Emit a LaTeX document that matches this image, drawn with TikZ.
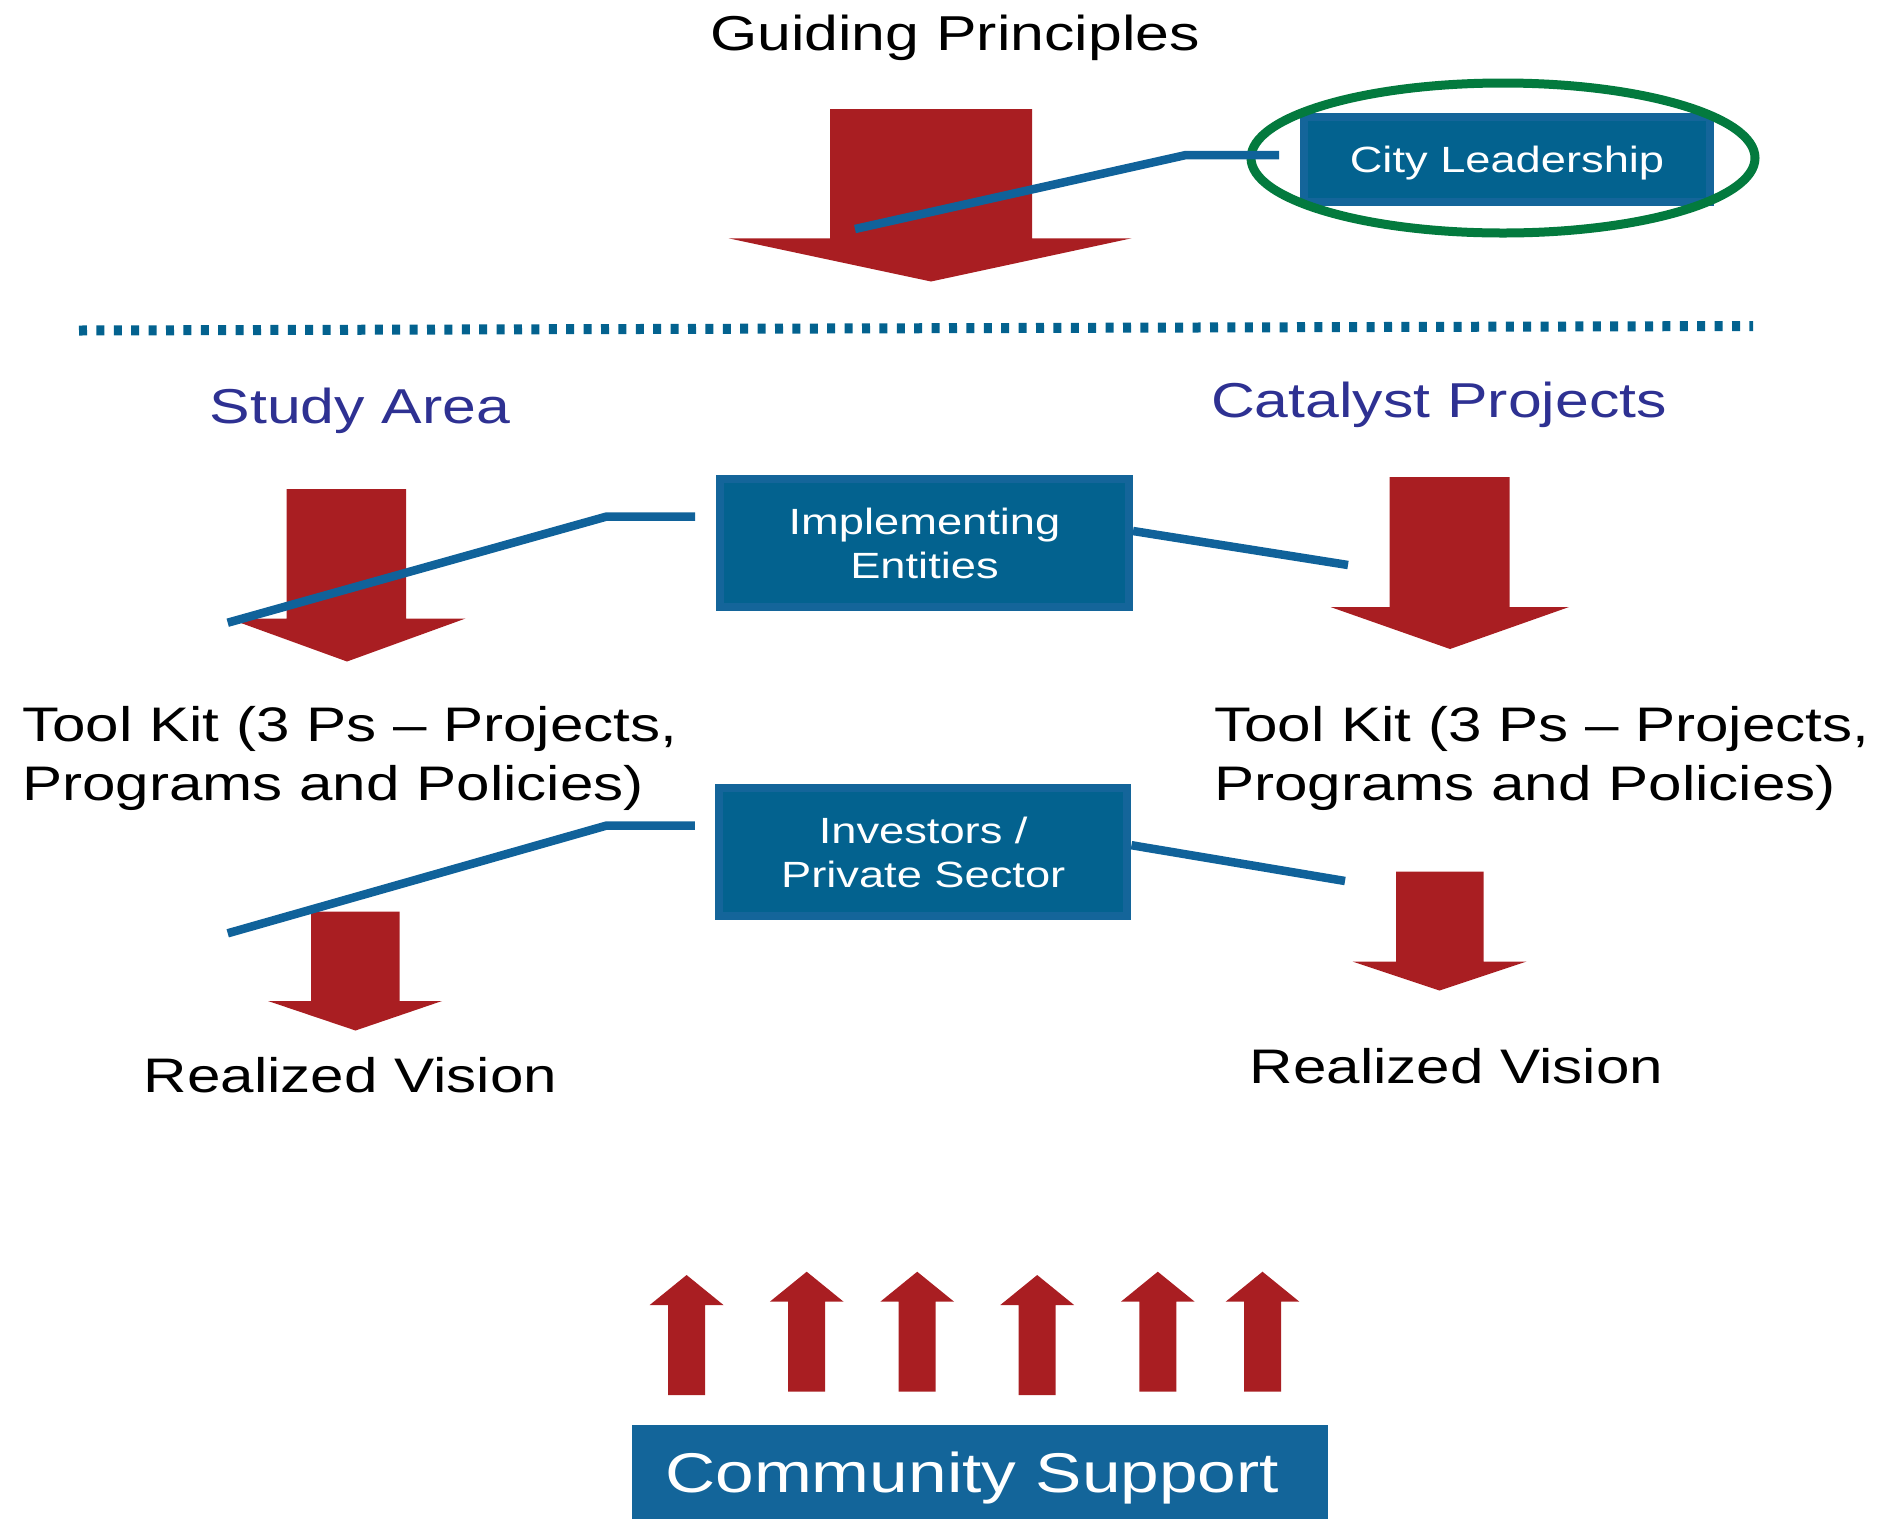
\documentclass[tikz,border=0pt]{standalone}
\usepackage{fontspec}
\setmainfont{Liberation Sans}[FakeStretch=1.24]
\definecolor{arrowred}{HTML}{A91E22}
\definecolor{boxblue}{HTML}{03628F}
\definecolor{boxrim}{HTML}{14659A}
\definecolor{linkblue}{HTML}{10629A}
\definecolor{dotblue}{HTML}{03628F}
\definecolor{ringgreen}{HTML}{037A3E}
\definecolor{headblue}{HTML}{2E3192}
\definecolor{commblue}{HTML}{13659A}
\newcommand\myuparrow[2]{\fill[redfill] ({#1-18.5},#2) -- ({#1+18.5},#2) -- ({#1+18.5},{#2-90}) -- ({#1+36.9},{#2-90}) -- (#1,{#2-120}) -- ({#1-36.9},{#2-90}) -- ({#1-18.5},{#2-90}) -- cycle;}
\begin{document}
\begin{tikzpicture}[x=1pt,y=-1pt,
  redfill/.style={fill=arrowred},
  conn/.style={draw=linkblue,line width=8.5pt},
  bluebox/.style={draw=boxrim,fill=boxblue,line width=8pt,inner sep=0pt,text=white,align=center,text depth=0pt,font=\fontsize{36.5}{44}\selectfont},
  heading/.style={anchor=base,text=headblue,inner sep=0pt,font=\fontsize{49}{58}\selectfont},
  body/.style={anchor=base,inner sep=0pt,font=\fontsize{48.5}{58.5}\selectfont}]
\useasboundingbox (0,0) rectangle (1885,1519);

% titles
\node[body,font=\fontsize{49}{58}\selectfont] (gp) at (955,50) {Guiding Principles};
\node[heading] (sa) at (360,423) {Study Area};
\node[heading] (cp) at (1439,417) {Catalyst Projects};
\node[body,anchor=base west,align=left] (tkL) at (22,800) {Tool Kit (3 Ps – Projects,\\Programs and Policies)};
\node[body,anchor=base west,align=left] (tkR) at (1214,800) {Tool Kit (3 Ps – Projects,\\Programs and Policies)};
\node[body] (rvL) at (350.5,1092.7) {Realized Vision};
\node[body] (rvR) at (1456.5,1083) {Realized Vision};

% down arrows
\fill[redfill] (830,109) -- (1032,109) -- (1032,238.3) -- (1131.5,238.3) -- (931,281.5) -- (728.5,238.3) -- (830,238.3) -- cycle;
\fill[redfill] (286.5,489) -- (406,489) -- (406,618.5) -- (465.5,618.5) -- (347,661.5) -- (228.5,618.5) -- (286.5,618.5) -- cycle;
\fill[redfill] (1389.5,477) -- (1509.5,477) -- (1509.5,607) -- (1569,607) -- (1450,649) -- (1330.5,607) -- (1389.5,607) -- cycle;
\fill[redfill] (311,911.5) -- (399.5,911.5) -- (399.5,1001) -- (442,1001) -- (355.5,1030.5) -- (268,1001) -- (311,1001) -- cycle;
\fill[redfill] (1396,871.5) -- (1483.5,871.5) -- (1483.5,961.5) -- (1526.5,961.5) -- (1439.5,990.5) -- (1352.5,961.5) -- (1396,961.5) -- cycle;

% up arrows
\myuparrow{686.6}{1395}
\myuparrow{806.7}{1391.7}
\myuparrow{917.2}{1391.7}
\myuparrow{1037.2}{1395}
\myuparrow{1157.8}{1391.7}
\myuparrow{1262.5}{1391.7}

% dotted divider
\draw[dotblue,line width=10pt,dash pattern=on 8pt off 9.4pt] (79,330.5) -- (1753,326);

% boxes
\node[bluebox,minimum width=406pt,minimum height=84.5pt] (city) at (1507,159.7) {City Leadership};
\node[bluebox,minimum width=409pt,minimum height=128pt] (impl) at (924.5,543) {Implementing\\Entities};
\node[bluebox,minimum width=408.5pt,minimum height=127.5pt] (inv) at (923.2,852.2) {Investors /\\Private Sector};
\node[fill=commblue,inner sep=0pt,minimum width=696.5pt,minimum height=94pt,text=white,text depth=0pt,font=\fontsize{56}{66}\selectfont] (comm) at (980.2,1472) {\hspace*{-16pt}Community Support};

% ring
\draw[ringgreen,line width=9pt] (1503,158) ellipse [x radius=252,y radius=75];

% connectors
\coordinate (gpEnd) at (855,229);
\coordinate (implL) at (227.7,622.7);
\coordinate (implR) at (1348,565);
\coordinate (invL) at (227.7,933.3);
\coordinate (invR) at (1345,881);
\draw[conn] (gpEnd) -- (1186,155) -- ([xshift=-21pt,yshift=4.7pt]city.west);
\draw[conn] (implL) -- (606,516.7) -- ([xshift=-21pt,yshift=26.3pt]impl.west);
\draw[conn] ([yshift=12pt]impl.east) -- (implR);
\draw[conn] (invL) -- (606,825.7) -- ([xshift=-20pt,yshift=26.5pt]inv.west);
\draw[conn] ([yshift=7pt]inv.east) -- (invR);
\end{tikzpicture}
\end{document}
